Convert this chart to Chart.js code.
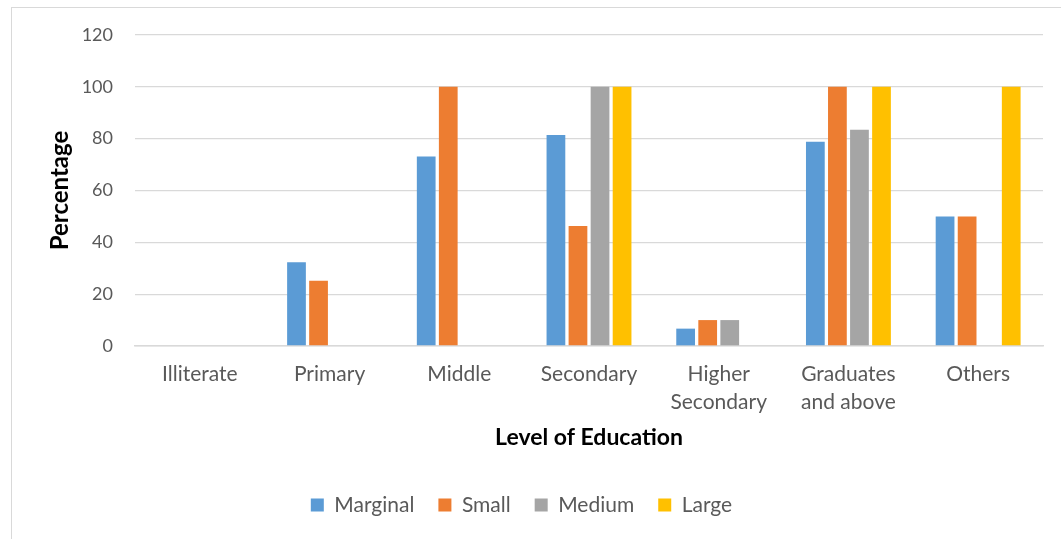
<!DOCTYPE html>
<html>
<head>
<meta charset="utf-8">
<title>Level of Education</title>
<script src="https://cdn.jsdelivr.net/npm/chart.js"></script>
<style>
  html, body { margin: 0; padding: 0; background: #fff; }
  #wrap { position: relative; width: 1061px; height: 539px; }
</style>
</head>
<body>
<div id="wrap"><canvas id="bar-chart" width="1061" height="539"></canvas></div>
<script>
const levels = ['Illiterate', 'Primary', 'Middle', 'Secondary', ['Higher', 'Secondary'], ['Graduates', 'and above'], 'Others'];
const marginal = [0, 32.3, 73.1, 81.4, 6.7, 78.8, 50];
const small = [0, 25.2, 100, 46.3, 10, 100, 50];
const medium = [0, 0, 0, 100, 10, 83.4, 0];
const large = [0, 0, 0, 100, 0, 100, 100];

const gray = '#595959';
const font = 'Lato, "Open Sans", sans-serif';

// thin frame around the whole chart area
const framePlugin = {
  id: 'frame',
  beforeDraw(chart) {
    const ctx = chart.ctx;
    ctx.save();
    ctx.strokeStyle = '#d9d9d9';
    ctx.lineWidth = 1;
    ctx.strokeRect(11.5, 7.5, 1070, 560);
    ctx.restore();
  }
};

const makeSet = (label, data, color) => ({
  label,
  data,
  backgroundColor: color,
  borderWidth: 0,
  categoryPercentage: 0.68,
  barPercentage: 0.85
});

new Chart(document.getElementById('bar-chart'), {
  type: 'bar',
  data: {
    labels: levels,
    datasets: [
      makeSet('Marginal', marginal, '#5b9bd5'),
      makeSet('Small', small, '#ed7d31'),
      makeSet('Medium', medium, '#a5a5a5'),
      makeSet('Large', large, '#ffc000')
    ]
  },
  options: {
    responsive: false,
    animation: false,
    layout: { padding: { top: 35, right: 18, bottom: 13.5, left: 0 } },
    plugins: {
      tooltip: { enabled: false },
      legend: {
        position: 'bottom',
        labels: {
          boxWidth: 13,
          boxHeight: 13,
          padding: 24,
          color: gray,
          font: { family: font, size: 21 }
        }
      }
    },
    scales: {
      x: {
        grid: { display: false, drawTicks: false },
        border: { color: '#d9d9d9', width: 1.5 },
        ticks: {
          color: gray,
          padding: 14,
          maxRotation: 0,
          autoSkip: false,
          font: { family: font, size: 21, lineHeight: 1.33 }
        },
        title: {
          display: true,
          text: 'Level of Education',
          color: '#000',
          padding: { top: 4, bottom: 18.7 },
          font: { family: font, size: 23, weight: 'bold' }
        },
        afterFit(scale) { scale.height = 124.5; }
      },
      y: {
        min: 0,
        max: 120,
        ticks: {
          stepSize: 20,
          color: gray,
          padding: 22,
          font: { family: font, size: 18 }
        },
        grid: { color: '#d9d9d9', lineWidth: 1.3, drawTicks: false },
        border: { display: false },
        title: {
          display: true,
          text: 'Percentage',
          color: '#000',
          padding: { top: 45.5, bottom: 0 },
          font: { family: font, size: 24, weight: 'bold' }
        },
        afterFit(scale) { scale.width = 135; }
      }
    }
  },
  plugins: [framePlugin]
});
</script>
</body>
</html>
